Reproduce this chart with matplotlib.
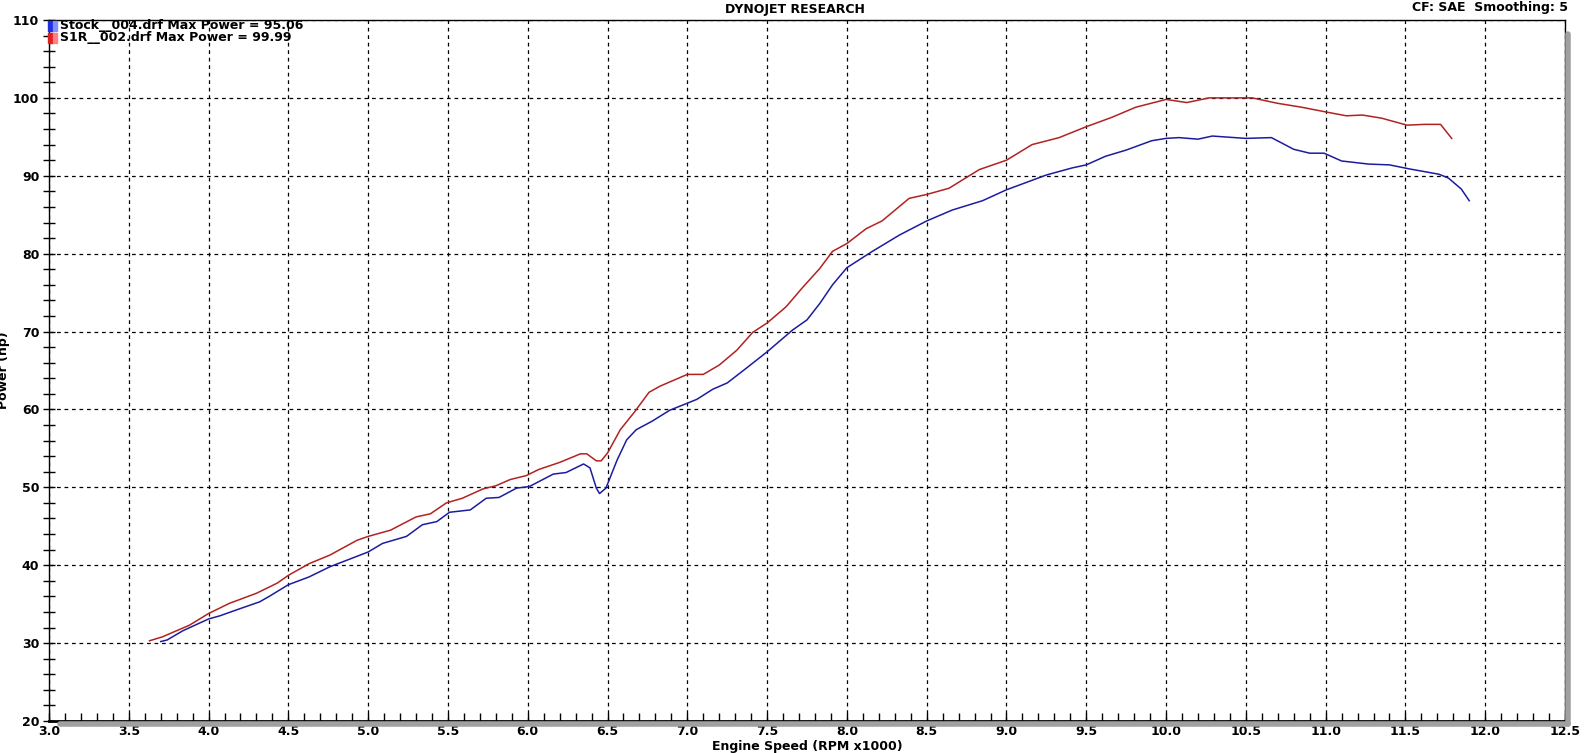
import numpy as np
import matplotlib
matplotlib.use("Agg")
import matplotlib.pyplot as plt
import matplotlib.transforms as mtrans
from matplotlib.lines import Line2D
from matplotlib.patches import Rectangle
from matplotlib.ticker import MultipleLocator, FormatStrFormatter

# Stock run
stock_rpm = [3.70, 3.74, 3.84, 4.00, 4.07, 4.18, 4.32, 4.38, 4.50, 4.63, 4.76, 5.00,
             5.09, 5.24, 5.34, 5.43, 5.51, 5.64, 5.74, 5.82, 5.93, 6.01, 6.16, 6.24,
             6.35, 6.39, 6.43, 6.45, 6.49, 6.56, 6.62, 6.68, 6.78, 6.89, 7.00, 7.06,
             7.16, 7.25, 7.37, 7.50, 7.66, 7.75, 7.83, 7.91, 8.00, 8.16, 8.33, 8.50,
             8.66, 8.85, 9.00, 9.25, 9.41, 9.50, 9.62, 9.75, 9.91, 10.00, 10.08, 10.20,
             10.29, 10.50, 10.66, 10.80, 10.90, 10.99, 11.10, 11.27, 11.40, 11.52, 11.71,
             11.77, 11.85, 11.90]
stock_hp = [30.2, 30.4, 31.6, 33.1, 33.5, 34.3, 35.3, 36.0, 37.5, 38.5, 39.8, 41.7,
            42.8, 43.7, 45.2, 45.6, 46.8, 47.1, 48.6, 48.7, 49.9, 50.1, 51.7, 51.9,
            53.0, 52.5, 49.9, 49.2, 49.9, 53.5, 56.1, 57.4, 58.5, 59.9, 60.8, 61.3,
            62.6, 63.4, 65.3, 67.4, 70.2, 71.5, 73.6, 76.0, 78.2, 80.3, 82.4, 84.2,
            85.6, 86.8, 88.2, 90.1, 91.0, 91.4, 92.5, 93.3, 94.5, 94.8, 94.9, 94.7,
            95.1, 94.8, 94.9, 93.4, 92.9, 92.9, 91.9, 91.5, 91.4, 90.9, 90.2,
            89.7, 88.3, 86.8]

# S1R run
s1r_rpm = [3.63, 3.71, 3.88, 4.00, 4.13, 4.30, 4.43, 4.50, 4.63, 4.76, 4.93, 5.00,
           5.14, 5.30, 5.39, 5.49, 5.59, 5.72, 5.80, 5.89, 5.99, 6.07, 6.20, 6.33,
           6.37, 6.43, 6.46, 6.50, 6.58, 6.67, 6.76, 6.83, 7.00, 7.10, 7.20, 7.31,
           7.41, 7.50, 7.62, 7.72, 7.83, 7.91, 8.00, 8.12, 8.22, 8.39, 8.50, 8.64,
           8.83, 9.00, 9.16, 9.33, 9.50, 9.66, 9.81, 10.00, 10.13, 10.20, 10.27, 10.54,
           10.70, 10.85, 11.00, 11.13, 11.23, 11.35, 11.51, 11.62, 11.72, 11.79]
s1r_hp = [30.3, 30.8, 32.3, 33.8, 35.1, 36.4, 37.7, 38.7, 40.2, 41.3, 43.2, 43.7,
          44.5, 46.2, 46.6, 48.0, 48.6, 49.8, 50.2, 51.0, 51.5, 52.3, 53.2, 54.3,
          54.3, 53.4, 53.4, 54.4, 57.4, 59.7, 62.2, 63.0, 64.5, 64.5, 65.7, 67.6,
          69.9, 71.1, 73.2, 75.6, 78.1, 80.3, 81.3, 83.2, 84.2, 87.1, 87.6, 88.4,
          90.8, 92.0, 94.0, 94.9, 96.3, 97.5, 98.8, 99.8, 99.4, 99.7, 100.0, 100.0,
          99.3, 98.8, 98.2, 97.7, 97.8, 97.4, 96.5, 96.6, 96.6, 94.8]

legend_labels = ["Stock__004.drf Max Power = 95.06", "S1R__002.drf Max Power = 99.99"]

W, H = 1589, 753
fig = plt.figure(figsize=(W / 100, H / 100), dpi=100)
ax = fig.add_axes([49 / W, 1 - 721 / H, (1565 - 49) / W, (721 - 20) / H])

ax.plot(stock_rpm, stock_hp, color="#1c1ca0", lw=1.1)
ax.plot(s1r_rpm, s1r_hp, color="#b22222", lw=1.1)

ax.set_xlim(3.0, 12.5)
ax.set_ylim(20, 110)
ax.xaxis.set_major_locator(MultipleLocator(0.5))
ax.xaxis.set_minor_locator(MultipleLocator(0.1))
ax.yaxis.set_major_locator(MultipleLocator(10))
ax.yaxis.set_minor_locator(MultipleLocator(2))
ax.xaxis.set_major_formatter(FormatStrFormatter("%.1f"))
ax.grid(True, which="major", color="black", ls=(0, (3, 3)), lw=0.9)

ax.tick_params(axis="x", which="both", direction="in", length=6, width=1, pad=3,
               labelsize=9)
ax.tick_params(axis="y", which="both", direction="inout", length=8, width=1, pad=3,
               labelsize=9)
for lab in ax.get_xticklabels() + ax.get_yticklabels():
    lab.set_fontweight("bold")

for s in ["left", "top", "right"]:
    ax.spines[s].set_linewidth(1.0)
ax.spines["bottom"].set_linewidth(2.0)

# grey drop shadow along bottom and right edges
off = mtrans.ScaledTranslation(3 / 100, -3 / 100, fig.dpi_scale_trans)
shadow = ax.transAxes + off
fig.add_artist(Line2D([0.005, 1.0], [0, 0], transform=shadow, color="#a0a0a0", lw=4,
                      solid_capstyle="round"))
fig.add_artist(Line2D([1.0, 1.0], [0, 0.985], transform=shadow, color="#a0a0a0", lw=4,
                      solid_capstyle="round"))

ax.set_xlabel("Engine Speed (RPM x1000)", fontsize=9, fontweight="bold", labelpad=1)
ax.set_ylabel("Power (hp)", fontsize=9, fontweight="bold")
ax.yaxis.set_label_coords(-39 / 1516, 0.5)

fig.text(0.5, 1 - 9 / H, "DYNOJET RESEARCH", ha="center", va="center", fontsize=9,
         fontweight="bold")
fig.text(1568 / W, 1 - 7 / H, "CF: SAE  Smoothing: 5", ha="right", va="center",
         fontsize=9, fontweight="bold")

# legend in the top-left corner
colors = [("#2030e0", "#8090ff"), ("#e02020", "#ff8080")]
for i, (lab, (c1, c2)) in enumerate(zip(legend_labels, colors)):
    yc = 26 + i * 12
    fig.patches.append(Rectangle((48 / W, 1 - (yc + 5) / H), 5 / W, 10 / H,
                                 transform=fig.transFigure, color=c1, zorder=5))
    fig.patches.append(Rectangle((53 / W, 1 - (yc + 5) / H), 4 / W, 10 / H,
                                 transform=fig.transFigure, color=c2, zorder=5))
    fig.text(60 / W, 1 - yc / H, lab, ha="left", va="center", fontsize=9,
             fontweight="bold")

fig.savefig("out.png", dpi=100)
